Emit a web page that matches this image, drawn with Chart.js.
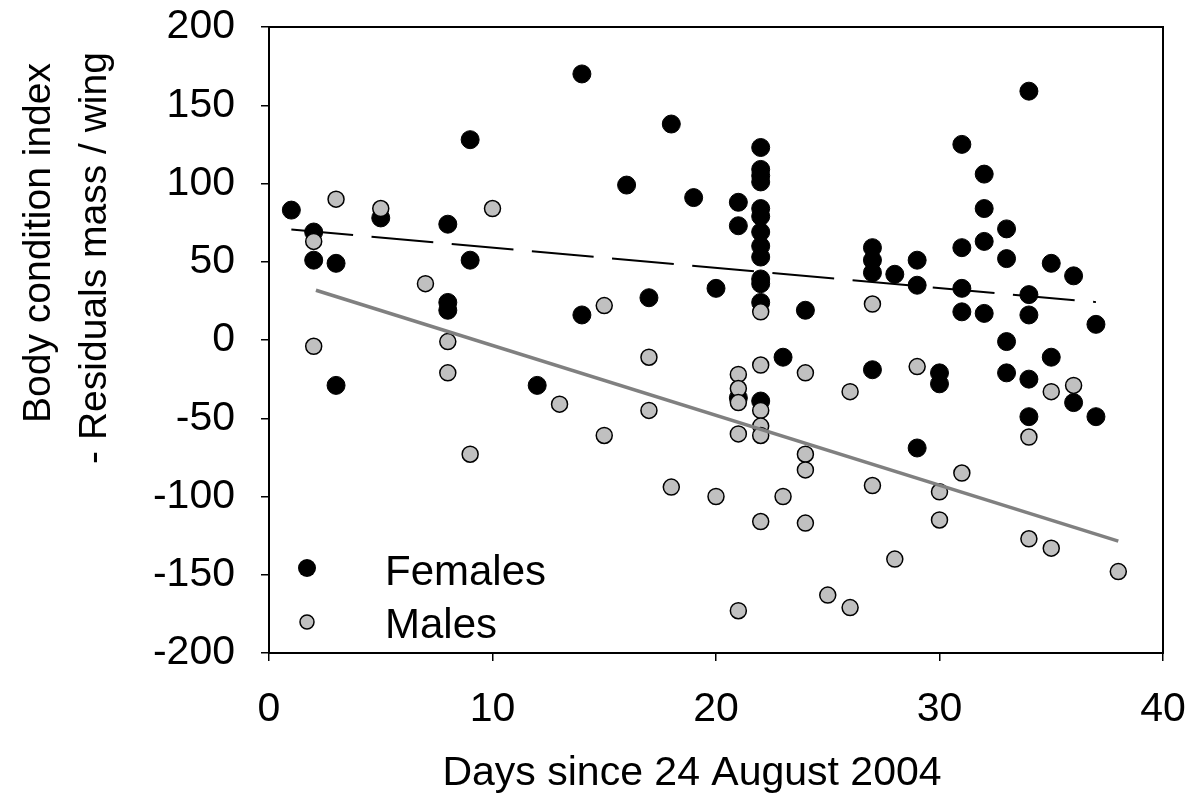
<!DOCTYPE html>
<html><head><meta charset="utf-8">
<script src="https://cdn.jsdelivr.net/npm/chart.js@4.4.1/dist/chart.umd.min.js"></script>
<style>html,body{margin:0;padding:0;background:#fff;}#wrap{width:1199px;height:803px;position:relative;}</style>
</head><body><div id="wrap"><canvas id="c"></canvas></div>
<script>
const femaleDays = [1, 2,2, 3,3, 5, 8,8,8, 9,9, 12, 14,14, 16, 17, 18, 19, 20, 21,21,21,
  22,22,22,22,22,22,22,22,22,22,22,22,22, 23, 24, 27,27,27,27, 28, 29,29,29, 30,30,
  31,31,31,31, 32,32,32,32, 33,33,33,33, 34,34,34,34,34, 35,35, 36,36, 37,37];
const femaleValues = [83, 69,51, 49,-29, 78, 74,24,19, 128,51, -29, 170,16, 99, 27, 138, 91, 33, 88,73,-37,
  123,109,105,101,84,79,69,60,53,39,36,24,-39, -11, 19, 59,51,43,-19, 42, 51,35,-69, -21,-28,
  125,59,33,18, 106,84,63,17, 71,52,-1,-21, 159,29,16,-25,-49, 49,-11, 41,-40, 10,-49];
const maleDays = [2,2, 3, 5, 7, 8,8, 9, 10, 13, 15,15, 17,17, 18, 20, 21,21,21,21,21,
  22,22,22,22,22,22, 23, 24,24,24,24, 25, 26,26, 27,27, 28, 29, 30,30, 31, 34,34, 35,35, 36, 38];
const maleValues = [63,-4, 90, 84, 36, -1,-21, -73, 84, -41, 22,-61, -11,-45, -94, -100, -22,-31,-40,-60,-173,
  18,-16,-45,-55,-61,-116, -100, -21,-73,-83,-117, -163, -33,-171, 23,-93, -140, -17, -97,-115, -85, -62,-127, -33,-133, -29, -148];
const femaleTrendDays = [1, 37];
const femaleTrendValues = [70.6, 24.2];
const maleTrendDays = [2.1, 38];
const maleTrendValues = [31.8, -128.5];
const xTicks = [0, 10, 20, 30, 40];
const yTicks = [-200, -150, -100, -50, 0, 50, 100, 150, 200];
const seriesNames = ['Females', 'Males'];
const xTitle = 'Days since 24 August 2004';
const yTitleLines = ['Body condition index', '- Residuals mass / wing'];

const pts = (xs, ys) => xs.map((x, i) => ({x: x, y: ys[i]}));
const FONT = '"Liberation Sans", Arial, sans-serif';

const decor = {
  id: 'decor',
  afterDraw(chart) {
    const ctx = chart.ctx, a = chart.chartArea;
    ctx.save();
    ctx.strokeStyle = '#000'; ctx.lineWidth = 2;
    ctx.strokeRect(a.left, a.top, a.right - a.left, a.bottom - a.top);
    ctx.fillStyle = '#000';
    ctx.font = '41px ' + FONT;
    ctx.textAlign = 'center'; ctx.textBaseline = 'alphabetic';
    ctx.fillText(xTitle, 692, 785);
    ctx.font = '39px ' + FONT;
    ctx.save(); ctx.translate(50, 243); ctx.rotate(-Math.PI / 2); ctx.fillText(yTitleLines[0], 0, 0); ctx.restore();
    ctx.save(); ctx.translate(106, 258); ctx.rotate(-Math.PI / 2); ctx.fillText(yTitleLines[1], 0, 0); ctx.restore();
    ctx.beginPath(); ctx.arc(307, 568, 9, 0, Math.PI * 2); ctx.fillStyle = '#000'; ctx.fill();
    ctx.beginPath(); ctx.arc(307, 622, 7, 0, Math.PI * 2); ctx.fillStyle = '#c0c0c0'; ctx.fill();
    ctx.lineWidth = 1.5; ctx.strokeStyle = '#000'; ctx.stroke();
    ctx.fillStyle = '#000'; ctx.font = '42px ' + FONT; ctx.textAlign = 'left';
    ctx.fillText(seriesNames[0], 385, 585);
    ctx.fillText(seriesNames[1], 385, 638);
    ctx.restore();
  }
};

new Chart(document.getElementById('c'), {
  type: 'scatter',
  data: {
    datasets: [
      {label: 'Females trend', type: 'line', data: pts(femaleTrendDays, femaleTrendValues), borderColor: '#000',
       borderWidth: 2, borderDash: [62, 18.5], pointRadius: 0, fill: false, order: 0},
      {label: 'Males trend', type: 'line', data: pts(maleTrendDays, maleTrendValues), borderColor: '#808080',
       borderWidth: 3.5, pointRadius: 0, fill: false, order: 1},
      {label: seriesNames[1], data: pts(maleDays, maleValues), backgroundColor: '#c0c0c0', borderColor: '#000',
       borderWidth: 1.5, pointRadius: 8, order: 2},
      {label: seriesNames[0], data: pts(femaleDays, femaleValues), backgroundColor: '#000', borderColor: '#000',
       borderWidth: 1, pointRadius: 9, order: 3}
    ]
  },
  options: {
    responsive: true, maintainAspectRatio: false, animation: false, devicePixelRatio: 1,
    layout: {padding: {left: 0, top: 27, right: 36, bottom: 0}},
    plugins: {legend: {display: false}, tooltip: {enabled: false}},
    scales: {
      x: {
        type: 'linear', min: 0, max: 40,
        afterBuildTicks: s => { s.ticks = xTicks.map(v => ({value: v})); },
        afterFit: s => { s.height = 150; s.paddingLeft = 0; s.paddingRight = 0; s.paddingTop = 0; s.paddingBottom = 0; },
        grid: {display: true, drawOnChartArea: false, drawTicks: true, tickLength: 8, color: '#000', lineWidth: 1.5},
        border: {display: true, color: '#000', width: 2},
        ticks: {font: {size: 41, family: FONT}, color: '#000', padding: 24, maxRotation: 0}
      },
      y: {
        type: 'linear', min: -200, max: 200,
        afterBuildTicks: s => { s.ticks = yTicks.map(v => ({value: v})); },
        afterFit: s => { s.width = 269; s.paddingLeft = 0; s.paddingRight = 0; s.paddingTop = 0; s.paddingBottom = 0; },
        grid: {display: true, drawOnChartArea: false, drawTicks: true, tickLength: 8, color: '#000', lineWidth: 1.5},
        border: {display: true, color: '#000', width: 2},
        ticks: {font: {size: 41, family: FONT}, color: '#000', padding: 26}
      }
    }
  },
  plugins: [decor]
});
</script>
</body></html>
